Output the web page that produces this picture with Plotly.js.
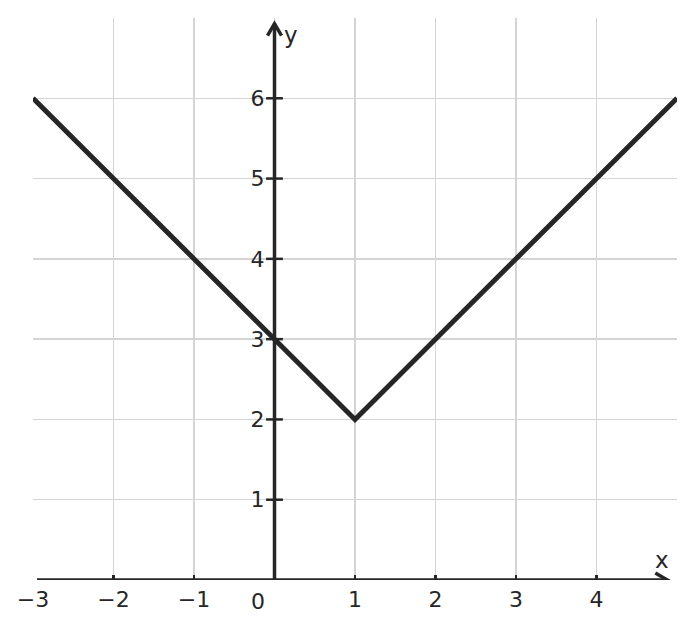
<!DOCTYPE html>
<html>
<head>
<meta charset="utf-8">
<script src="https://cdn.plot.ly/plotly-3.0.1.min.js"></script>
<style>
  body { margin: 0; background: #fff; }
  #graph { width: 694px; height: 629px; }
</style>
</head>
<body>
<div id="graph"></div>
<script>
// y = |x - 1| + 2, vertices
var lineX = [-3, 1, 5];
var lineY = [6, 2, 6];

var xTicks = [-3, -2, -1, 1, 2, 3, 4];
var xGrid = [-3, -2, -1, 0, 1, 2, 3, 4];
var yTicks = [1, 2, 3, 4, 5, 6];
var yGrid = [0, 1, 2, 3, 4, 5, 6];

var ink = '#262626';
var font = {family: 'DejaVu Sans', size: 22, color: ink};

var curve = {
    x: lineX,
    y: lineY,
    mode: 'lines',
    line: {color: ink, width: 5},
    hoverinfo: 'skip'
};

// little ticks crossing the y axis
var yTickMarks = {
    x: yTicks.map(function(){ return 0; }),
    y: yTicks,
    mode: 'markers',
    marker: {symbol: 'line-ew', size: 12, line: {color: ink, width: 2.5}},
    hoverinfo: 'skip',
    cliponaxis: false
};

var layout = {
    width: 694,
    height: 629,
    margin: {l: 33, r: 17, t: 18, b: 49},
    paper_bgcolor: '#fff',
    plot_bgcolor: '#fff',
    showlegend: false,
    font: font,
    xaxis: {
        range: [-3, 5],
        tickvals: xTicks,
        ticktext: xTicks.map(function(v){ return v < 0 ? '\u2212' + (-v) : String(v); }),
        ticks: 'inside',
        ticklen: 5,
        tickwidth: 2.5,
        tickcolor: ink,
        ticklabelstandoff: 4,
        showgrid: false,
        zeroline: false,
        showline: false,
        tickfont: font,
        fixedrange: true
    },
    xaxis2: {
        range: [-3, 5],
        overlaying: 'x',
        tickvals: xGrid,
        showticklabels: false,
        showgrid: true,
        gridcolor: '#d4d4d4',
        gridwidth: 1.5,
        zeroline: false
    },
    yaxis: {
        range: [0, 7],
        anchor: 'free',
        position: 0.375,
        tickvals: yTicks,
        ticks: '',
        ticklabelstandoff: 10,
        tickfont: font,
        showgrid: false,
        zeroline: false,
        showline: false,
        fixedrange: true
    },
    yaxis2: {
        range: [0, 7],
        overlaying: 'y',
        tickvals: yGrid,
        showticklabels: false,
        showgrid: true,
        gridcolor: '#d4d4d4',
        gridwidth: 1.5,
        zeroline: false
    },
    shapes: [
        // x axis with arrow
        {type: 'line', xref: 'x', yref: 'y', x0: -2.95, x1: 4.88, y0: 0, y1: 0,
         line: {color: ink, width: 3.5}},
        {type: 'path', xref: 'x', yref: 'y', xsizemode: 'pixel', ysizemode: 'pixel',
         xanchor: 4.88, yanchor: 0, path: 'M -12 7 L 0 0 L -12 -7',
         line: {color: ink, width: 3.5}},
        // y axis with arrow
        {type: 'line', xref: 'x', yref: 'y', x0: 0, x1: 0, y0: 0, y1: 6.93,
         line: {color: ink, width: 3.5}},
        {type: 'path', xref: 'x', yref: 'y', xsizemode: 'pixel', ysizemode: 'pixel',
         xanchor: 0, yanchor: 6.93, path: 'M -7 -12 L 0 0 L 7 -12',
         line: {color: ink, width: 3.5}}
    ],
    annotations: [
        {x: 0, y: 0, xref: 'x', yref: 'y', text: '0', showarrow: false,
         xshift: -17, yshift: -21, font: font},
        {x: 4.88, y: 0, xref: 'x', yref: 'y', text: 'x', showarrow: false,
         xshift: -5, yshift: 20, font: {family: 'DejaVu Sans', size: 23, color: ink}},
        {x: 0, y: 6.93, xref: 'x', yref: 'y', text: 'y', showarrow: false,
         xshift: 16, yshift: -11, font: {family: 'DejaVu Sans', size: 23, color: ink}}
    ]
};

var gridTrace = {x: [], y: [], xaxis: 'x2', yaxis: 'y2', hoverinfo: 'skip'};

Plotly.newPlot('graph', [gridTrace, curve, yTickMarks], layout, {displayModeBar: false, staticPlot: true});
</script>
</body>
</html>
